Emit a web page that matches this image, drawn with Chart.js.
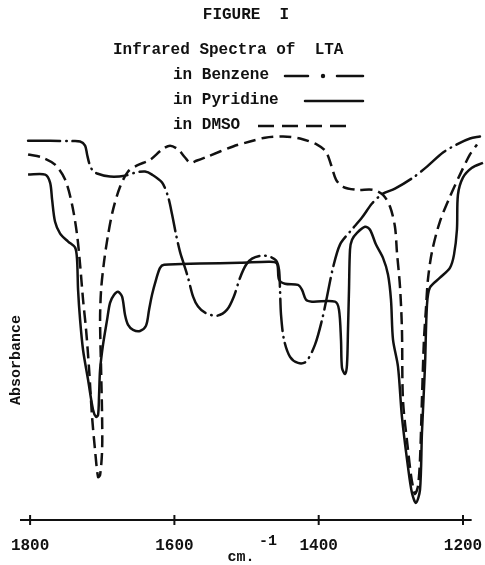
<!DOCTYPE html>
<html>
<head>
<meta charset="utf-8">
<script src="https://cdn.jsdelivr.net/npm/chart.js@4/dist/chart.umd.min.js"></script>
<style>
  body { margin: 0; background: #fff; }
  canvas { display: block; }
</style>
</head>
<body>
<canvas id="chart" width="485" height="565"></canvas>
<script>
// wavenumber (cm-1) and relative absorbance
const benzeneWn = [1802.8, 1772, 1744.6, 1730.7, 1723.8, 1721, 1718.2, 1714.1, 1707.2, 1689.2, 1668.4, 1654.5, 1640.7, 1631, 1617.1, 1608.8, 1603.2, 1597.7, 1592.2, 1586.6, 1581.1, 1574.1, 1567.2, 1557.5, 1540.9, 1527, 1517.3, 1509, 1500.7, 1492.4, 1478.5, 1467.5, 1459.1, 1455, 1453.6, 1452.2, 1448.1, 1439.7, 1428.7, 1417.6, 1405.1, 1395.4, 1388.5, 1380.2, 1370.5, 1356.6, 1340, 1326.1, 1310.9, 1294.3, 1269.3, 1249.9, 1227.7, 1207, 1190.3, 1176.5];
const benzeneAbs = [99.7, 99.7, 99.6, 99.5, 98.4, 96.1, 93.9, 92.1, 91.1, 90.3, 90.5, 91.3, 91.6, 90.8, 88.7, 85, 80.3, 75, 70.5, 67.1, 63.7, 58.7, 56.1, 54.5, 53.7, 55.3, 58.9, 63.7, 67.1, 68.7, 69.5, 69.2, 68.2, 65.8, 60.5, 53.9, 47.4, 42.9, 41.3, 41.6, 46.1, 52.6, 58.7, 66.3, 72.4, 75.8, 79.5, 83.2, 85.8, 87.1, 90, 92.9, 96.6, 98.9, 100.3, 100.8];

const pyridineWn = [1802.8, 1779.2, 1772.3, 1769.5, 1765.4, 1758.4, 1747.3, 1737.6, 1734.9, 1733.5, 1730.7, 1726.6, 1719.6, 1712.7, 1708.6, 1705.8, 1704.4, 1703, 1698.9, 1693.3, 1689.2, 1683.6, 1678.1, 1672.5, 1668.4, 1664.2, 1657.3, 1647.6, 1639.3, 1635.1, 1631, 1625.4, 1619.9, 1614.3, 1564.4, 1509, 1467.5, 1457.8, 1455, 1446.7, 1428.7, 1423.1, 1417.6, 1409.3, 1377.4, 1371.9, 1369.1, 1367.7, 1363.5, 1360.8, 1359.4, 1358, 1356.6, 1353.8, 1346.9, 1335.8, 1328.9, 1320.6, 1310.9, 1303.9, 1299.8, 1297, 1290.1, 1284.6, 1276.2, 1270.7, 1265.2, 1259.6, 1256.9, 1252.7, 1249.9, 1245.8, 1231.9, 1218.1, 1212.5, 1208.4, 1207, 1200.1, 1187.6, 1172.3];
const pyridineAbs = [90.8, 90.8, 88.7, 84.2, 78.4, 75.3, 73.2, 71.6, 68.4, 60.5, 52.6, 44.7, 36.8, 28.9, 27.1, 27.6, 32.9, 39.5, 46.1, 52.6, 57.1, 59.2, 60, 58.7, 53.9, 51.3, 50, 49.7, 51.1, 55.3, 59.2, 63.2, 66.3, 67.1, 67.4, 67.6, 67.9, 67.4, 63.2, 62.1, 61.8, 60.5, 57.9, 57.4, 57.4, 55.3, 47.4, 40, 38.4, 40.8, 50, 60.5, 71.1, 73.7, 75.5, 77.1, 76.3, 72.4, 68.9, 64.5, 57.9, 47.4, 40.3, 27.1, 13.9, 7.1, 4.5, 7.9, 22.9, 40.3, 56.6, 61.1, 63.7, 66.3, 69.7, 76.3, 85.5, 90, 92.6, 93.9];

const dmsoWn = [1802.8, 1783.4, 1765.4, 1751.5, 1741.8, 1734.9, 1730.7, 1726.6, 1722.4, 1718.2, 1714.1, 1710, 1705.8, 1703, 1700.2, 1700.2, 1701.6, 1703, 1701.6, 1697.5, 1691.9, 1685, 1675.3, 1664.2, 1651.7, 1633.7, 1617.1, 1606, 1594.9, 1585.2, 1578.3, 1568.6, 1554.7, 1518.7, 1495.2, 1474.4, 1449.4, 1425.9, 1402.3, 1389.9, 1382.9, 1376, 1366.3, 1347, 1324.7, 1310.9, 1301.2, 1294.3, 1291.5, 1287.3, 1284.6, 1283.2, 1276.2, 1272.1, 1269.3, 1266.5, 1262.4, 1259.6, 1256.9, 1254.1, 1251.4, 1248.6, 1243, 1232.1, 1218.1, 1204.2, 1190.3, 1180.6];
const dmsoAbs = [96.1, 95.3, 93.4, 89.5, 82.9, 75, 67.1, 57.9, 50, 39.5, 27.1, 18.4, 11.3, 11.8, 18.4, 27.1, 39.5, 52.6, 60.5, 67.9, 75, 81.6, 87.6, 91.6, 93.2, 94.7, 97.4, 98.4, 97.4, 95.3, 93.9, 94.5, 95.5, 98.2, 99.5, 100.5, 100.8, 100.3, 98.7, 96.8, 93.4, 89.5, 87.6, 86.8, 86.8, 85.5, 82.4, 77.1, 70.3, 61.3, 50, 31.6, 18.4, 11.8, 8.7, 6.8, 8.9, 15.8, 31.6, 47.4, 55.3, 63.2, 70.5, 78.4, 85, 90.8, 96.1, 98.7];

const tickVals = [1800, 1600, 1400, 1200];

const FONT = "'Liberation Mono', 'DejaVu Sans Mono', monospace";
const dashDot = [32, 6, 0.5, 6];
const dashed = [12, 6];

const pts = (xs, ys) => xs.map((x, i) => ({ x: x, y: ys[i] }));

const texts = {
  id: "texts",
  afterDraw(chart) {
    const ctx = chart.ctx;
    const xs = chart.scales.x;
    ctx.save();
    ctx.fillStyle = "#111";
    ctx.strokeStyle = "#111";
    ctx.textBaseline = "middle";

    ctx.font = "bold 16px " + FONT;
    ctx.textAlign = "center";
    ctx.fillText("FIGURE  I", 246, 15);
    ctx.textAlign = "left";
    ctx.fillText("Infrared Spectra of  LTA", 113, 50);
    ctx.fillText("in Benzene", 173, 75);
    ctx.fillText("in Pyridine", 173, 100);
    ctx.fillText("in DMSO", 173, 125);

    // legend samples
    ctx.lineWidth = 2.5;
    ctx.lineCap = "round";
    ctx.beginPath(); ctx.moveTo(285, 76); ctx.lineTo(308, 76); ctx.stroke();
    ctx.beginPath(); ctx.moveTo(337, 76); ctx.lineTo(363, 76); ctx.stroke();
    ctx.beginPath(); ctx.arc(323, 76, 2.2, 0, Math.PI * 2); ctx.fill();
    ctx.beginPath(); ctx.moveTo(305, 101); ctx.lineTo(363, 101); ctx.stroke();
    ctx.lineCap = "butt";
    ctx.setLineDash([16, 8]);
    ctx.beginPath(); ctx.moveTo(258, 126); ctx.lineTo(347, 126); ctx.stroke();
    ctx.setLineDash([]);

    // axis line with cross ticks and labels
    const yAx = chart.chartArea.bottom;
    ctx.lineWidth = 2;
    ctx.beginPath();
    ctx.moveTo(xs.getPixelForValue(1814), yAx);
    ctx.lineTo(xs.getPixelForValue(1188), yAx);
    ctx.stroke();
    ctx.textAlign = "center";
    tickVals.forEach(v => {
      const px = xs.getPixelForValue(v);
      ctx.beginPath(); ctx.moveTo(px, yAx - 5); ctx.lineTo(px, yAx + 5); ctx.stroke();
      ctx.fillText(String(v), px, yAx + 26);
    });

    // axis titles
    ctx.font = "bold 15px " + FONT;
    ctx.textAlign = "center";
    ctx.fillText("cm.", 241, 557);
    ctx.textAlign = "left";
    ctx.fillText("-1", 259, 541);

    ctx.translate(16, 360);
    ctx.rotate(-Math.PI / 2);
    ctx.textAlign = "center";
    ctx.fillText("Absorbance", 0, 0);
    ctx.restore();
  }
};

const line = (label, xs, ys, dash) => ({
  label: label,
  data: pts(xs, ys),
  borderColor: "#111",
  borderWidth: 2.5,
  borderDash: dash,
  borderCapStyle: dash === dashDot ? "round" : "butt",
  borderJoinStyle: "round",
  pointRadius: 0,
  tension: 0.3,
  fill: false
});

new Chart(document.getElementById("chart"), {
  type: "line",
  data: {
    datasets: [
      line("in Benzene", benzeneWn, benzeneAbs, dashDot),
      line("in Pyridine", pyridineWn, pyridineAbs, []),
      line("in DMSO", dmsoWn, dmsoAbs, dashed)
    ]
  },
  options: {
    responsive: false,
    devicePixelRatio: 1,
    animation: false,
    layout: { autoPadding: false, padding: { left: 20, right: 0, top: 132, bottom: 45 } },
    plugins: { legend: { display: false }, tooltip: { enabled: false } },
    scales: {
      x: {
        type: "linear",
        reverse: true,
        min: 1169.5,
        max: 1814,
        afterBuildTicks: s => { s.ticks = tickVals.map(v => ({ value: v })); },
        grid: { display: false, drawTicks: false },
        border: { display: false },
        ticks: { display: false }
      },
      y: { min: 0, max: 102, display: false }
    }
  },
  plugins: [texts]
});
</script>
</body>
</html>
